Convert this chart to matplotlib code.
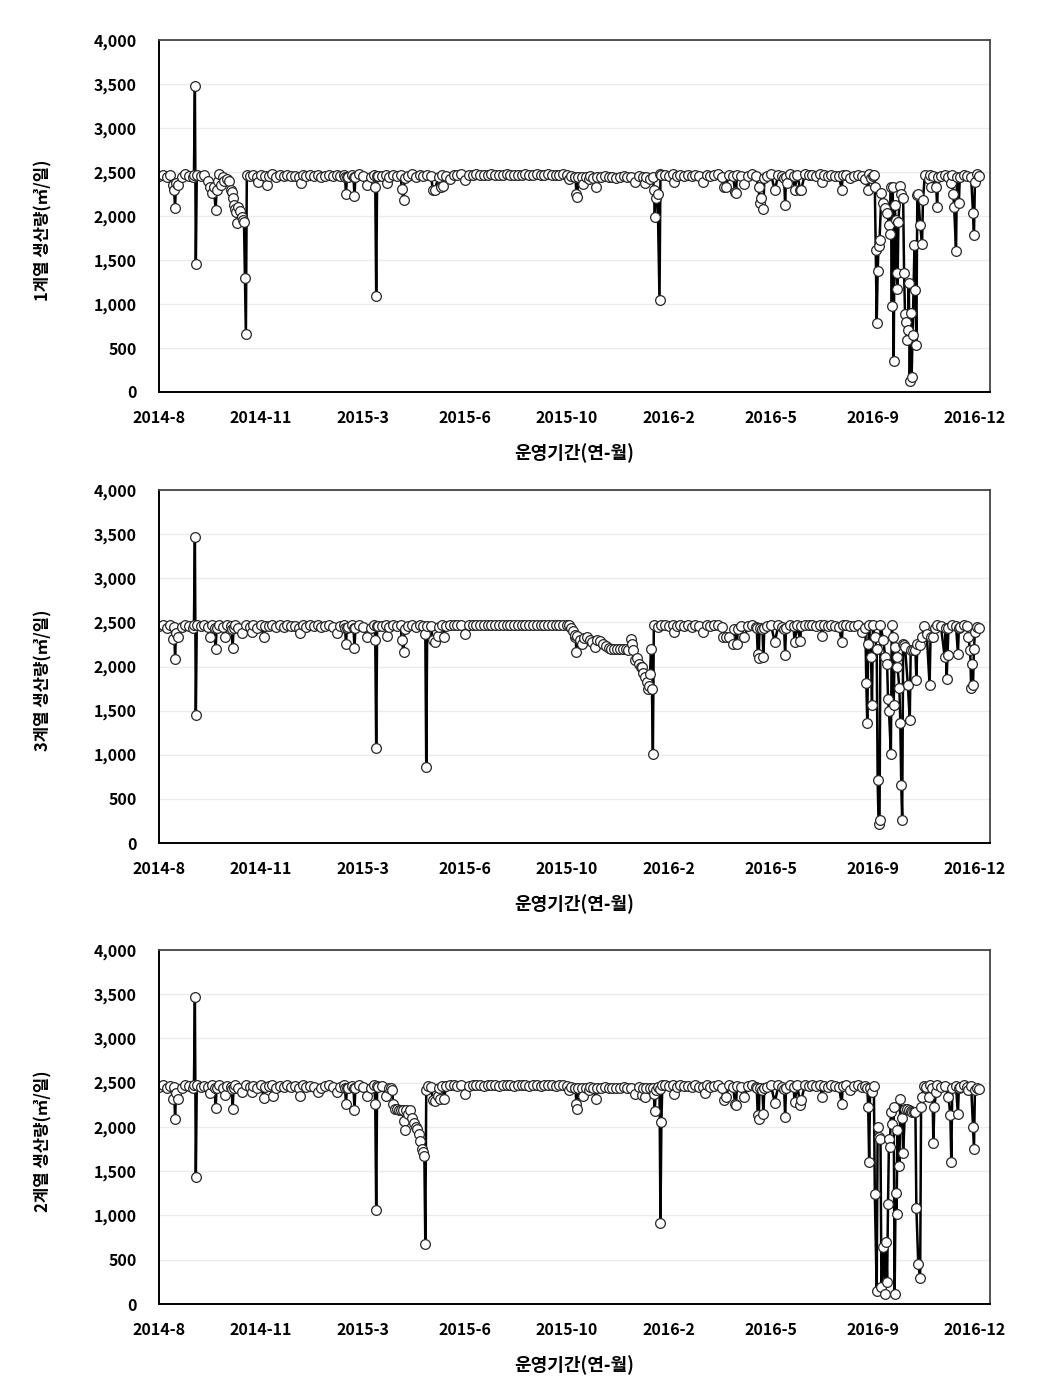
import matplotlib
matplotlib.use("Agg")
import matplotlib.pyplot as plt
from matplotlib.ticker import FuncFormatter

plt.rcParams['font.family'] = ['Noto Sans CJK KR', 'DejaVu Sans']
plt.rcParams['font.weight'] = 'bold'

# x axis: day index from 2014-8-10, a label every 108 days
tick_labels = ["2014-8", "2014-11", "2015-3", "2015-6", "2015-10",
               "2016-2", "2016-5", "2016-9", "2016-12"]
tick_step = 108

# normal operating level (sampled every 4 days), shared look of all trains
base_x = list(range(0, 872, 4))
base_y = [2455, 2470, 2440, 2465, 2450, 2470, 2445, 2475, 2460, 2440, 2470, 2455,
          2465, 2450, 2470, 2460, 2475, 2445, 2465, 2455, 2470, 2440, 2460, 2470,
          2450, 2465, 2440, 2470, 2455, 2460, 2475, 2445, 2465, 2450, 2470, 2455,
          2460, 2440, 2470, 2450, 2465, 2455, 2470, 2445, 2460, 2470, 2450, 2465,
          2455, 2470, 2445, 2465, 2460, 2475, 2450, 2465, 2440, 2470, 2455, 2460,
          2470, 2445, 2465, 2455, 2470, 2450, 2460, 2475, 2445, 2465, 2455, 2470,
          2455, 2470, 2445, 2465, 2460, 2475, 2470, 2465, 2475, 2470, 2465, 2470,
          2475, 2470, 2465, 2470, 2475, 2470, 2465, 2470, 2475, 2470, 2465, 2470,
          2470, 2475, 2465, 2470, 2475, 2465, 2470, 2475, 2470, 2465, 2470, 2475,
          2465, 2450, 2440, 2455, 2445, 2440, 2450, 2435, 2445, 2440, 2450, 2440,
          2445, 2435, 2440, 2450, 2440, 2445, 2435, 2450, 2440, 2445, 2435, 2440,
          2450, 2465, 2470, 2460, 2475, 2455, 2470, 2460, 2465, 2450, 2470, 2455,
          2450, 2470, 2455, 2465, 2475, 2445, 2460, 2470, 2450, 2465, 2455, 2470,
          2460, 2475, 2450, 2465, 2470, 2455, 2475, 2460, 2470, 2450, 2465, 2475,
          2455, 2470, 2460, 2475, 2465, 2470, 2460, 2475, 2465, 2455, 2470, 2460,
          2450, 2465, 2470, 2455, 2460, 2470, 2450, 2465, 2475, 2455, 2470, 2460,
          2465, 2455, 2470, 2450, 2465, 2475, 2460, 2445, 2470, 2455, 2465, 2450,
          2470, 2460, 2475, 2455, 2465, 2445, 2470, 2460, 2450, 2470, 2455, 2465,
          2460, 2455]

# 1계열: days that differ from the normal level
p1_x = [15, 16, 17, 18, 20, 37, 38, 39, 40,
        52, 54, 56, 58, 60, 61, 63, 66, 69,
        72, 74, 76, 77, 78, 79, 80, 82, 83, 84, 86, 88, 89, 90, 91, 92, 93,
        105, 114, 150, 197, 198, 199, 206, 207, 208, 220, 229, 230, 231, 241,
        257, 259, 260, 290, 292, 299, 301, 308, 324,
        434, 441, 442, 443, 444, 449, 455, 463, 504, 515, 520,
        523, 524, 525, 526, 528, 530, 531, 545, 576, 598, 600,
        610, 611, 620, 635, 636, 638, 640, 641, 652, 662, 663, 664, 665,
        673, 679, 680, 702, 723, 732, 748, 751, 754, 757,
        758, 759, 760, 761, 762, 763, 765, 767, 769, 771, 773, 774, 775, 776,
        777, 778, 779, 780, 781, 782, 783, 785, 786, 788, 789, 790, 791, 792,
        793, 794, 795, 796, 797, 798, 800, 801, 802, 803, 804, 806, 808, 809, 811,
        815, 817, 823, 824, 825, 839, 841, 842, 844, 845, 847, 848,
        860, 862, 863, 864, 866, 868]
p1_y = [2350, 2300, 2090, 2380, 2350, 2470, 3480, 1450, 2470,
        2400, 2330, 2260, 2330, 2070, 2300, 2400, 2350, 2400,
        2420, 2400, 2300, 2275, 2200, 2125, 2080, 2050, 1925, 2100, 2060, 1990, 1960, 1935, 1290, 655, 2470,
        2390, 2350, 2380, 2440, 2250, 2440, 2440, 2225, 2440, 2350, 2330, 1090, 2460, 2370,
        2310, 2180, 2430, 2300, 2295, 2330, 2340, 2420, 2410,
        2420, 2440, 2255, 2220, 2440, 2365, 2420, 2325, 2390, 2380, 2420,
        2445, 2300, 1990, 2200, 2250, 1045, 2480, 2390, 2390, 2330, 2330,
        2275, 2265, 2365, 2330, 2150, 2200, 2075, 2430, 2295, 2430, 2125, 2440, 2380,
        2300, 2295, 2300, 2390, 2300, 2430, 2420, 2295, 2430, 2466,
        2330, 1610, 780, 1370, 1660, 1730, 2260, 2145, 2090, 2030, 1900, 1800, 2330, 980,
        2330, 350, 2125, 1950, 1350, 1170, 1935, 2345, 2250, 2210, 1350, 890, 800, 590,
        705, 1240, 120, 895, 175, 650, 1670, 1160, 535, 2240, 2250, 1900, 1680, 2180, 2470,
        2420, 2330, 2330, 2105, 2440, 2370, 2250, 2105, 1605, 2440, 2145, 2440,
        2440, 2030, 1785, 2390, 2477, 2460]
p1_gaps = [(72, 93), (757, 812)]

# 3계열
p2_x = [15, 17, 18, 20, 37, 38, 39, 40,
        54, 59, 60, 61, 70, 77, 78, 79, 88, 98, 111, 149, 188,
        197, 198, 199, 206, 207, 208, 220, 229, 230, 231, 241,
        257, 259, 260, 282, 283, 284, 290, 292, 295, 302, 324,
        434, 436, 438, 440, 441, 442, 443, 446, 448, 450, 453, 456, 459, 462,
        464, 467, 470, 473, 476, 479, 482, 485, 488, 491, 494, 497, 500, 501,
        502, 504, 506, 508, 510, 511, 513, 515, 517, 518, 519, 520, 521, 522,
        523, 524, 545, 576, 597, 600, 604, 608, 609, 612, 613, 620,
        633, 634, 635, 636, 639, 640, 641, 652, 662, 663, 664, 673, 679, 702,
        723, 744, 748, 749, 750, 751, 752, 754, 755, 756, 758, 760, 761, 762,
        763, 764, 767, 769, 771, 772, 773, 775, 776, 777, 778, 779, 781, 782,
        784, 785, 786, 787, 788, 789, 790, 793, 795, 796, 798, 801, 802, 803,
        806, 808, 810, 813, 816, 817, 820, 822,
        832, 833, 834, 835, 836, 846, 847, 857, 859, 860, 861, 862, 863, 864, 866, 868]
p2_y = [2315, 2090, 2380, 2340, 2470, 3465, 1455, 2470,
        2335, 2440, 2200, 2440, 2340, 2430, 2213, 2440, 2380, 2390, 2335, 2380, 2380,
        2440, 2250, 2440, 2440, 2210, 2440, 2340, 2305, 1080, 2460, 2350,
        2296, 2165, 2430, 2370, 860, 2460, 2296, 2278, 2350, 2334, 2372,
        2466, 2440, 2400, 2330, 2360, 2165, 2350, 2300, 2260, 2320, 2330, 2300, 2280, 2220,
        2300, 2290, 2260, 2230, 2210, 2200, 2200, 2200, 2200, 2195, 2200, 2190, 2310, 2250,
        2190, 2070, 2100, 2030, 1995, 2000, 1925, 1880, 1825, 1750, 1780, 1920, 2195, 1740,
        1012, 2470, 2390, 2390, 2340, 2334, 2330, 2260, 2430, 2260, 2430, 2340,
        2440, 2145, 2100, 2440, 2430, 2108, 2440, 2278, 2430, 2126, 2440, 2280, 2290, 2350,
        2278, 2390, 2440, 1813, 1364, 2251, 2466, 2108, 1567, 2466, 2334, 2202, 710, 219,
        257, 2466, 2300, 2108, 2032, 1635, 1496, 1012, 2466, 2334, 1560, 2221, 2108, 1994,
        1760, 1364, 653, 257, 2259, 2240, 2221, 1787, 1390, 2183, 2183, 2183, 1851, 2259,
        2240, 2334, 2460, 2372, 1787, 2334, 2334, 2440,
        2108, 2440, 1862, 2126, 2440, 2145, 2440, 2330, 2183, 1760, 2032, 1787, 2200, 2390, 2450, 2440]
p2_gaps = [(434, 524), (748, 822)]

# 2계열
p3_x = [15, 17, 18, 20, 37, 38, 39, 40,
        54, 59, 60, 61, 70, 77, 78, 79, 88, 98, 111, 121, 149, 168, 188,
        197, 198, 199, 206, 207, 208, 220, 229, 230, 231, 240,
        246, 247, 248, 250, 252, 254, 256, 258, 259, 260, 262, 264, 266, 268,
        270, 272, 273, 275, 276, 278, 280, 281, 282, 283, 285,
        290, 292, 295, 298, 302, 324,
        434, 441, 442, 443, 444, 449, 455, 463, 504, 511, 515,
        523, 524, 525, 526, 530, 531, 532, 533, 545, 578, 598, 600, 610, 611, 620,
        633, 634, 635, 636, 639, 640, 641, 652, 662, 663, 664, 673, 679, 680,
        702, 723, 732, 750, 751, 752, 753, 755, 757, 758, 760, 761, 762, 764,
        765, 767, 769, 770, 771, 772, 773, 774, 775, 776, 778, 779, 780, 781,
        782, 784, 785, 787, 788, 790, 792, 794, 796, 797, 799, 801, 802, 804,
        806, 807, 808, 810, 815, 819, 820, 821, 823, 836, 838, 839, 840,
        846, 847, 857, 862, 863, 864, 866, 868]
p3_y = [2313, 2087, 2380, 2320, 2470, 3464, 1434, 2470,
        2380, 2440, 2219, 2440, 2360, 2430, 2204, 2440, 2390, 2390, 2329, 2350, 2350, 2390, 2390,
        2440, 2257, 2440, 2440, 2196, 2440, 2350, 2264, 1057, 2460, 2350,
        2440, 2415, 2257, 2208, 2200, 2196, 2196, 2196, 2068, 1962, 2196, 2151, 2196, 2106,
        2045, 2000, 1981, 1917, 1842, 1755, 1717, 1672, 679, 2415, 2466,
        2302, 2290, 2350, 2321, 2320, 2370,
        2420, 2440, 2264, 2208, 2440, 2351, 2420, 2313, 2370, 2360, 2340,
        2440, 2370, 2181, 2420, 2430, 913, 2057, 2470, 2370, 2380, 2302, 2340, 2264, 2250, 2340,
        2440, 2132, 2095, 2440, 2420, 2144, 2440, 2276, 2430, 2113, 2440, 2280, 2245, 2300,
        2340, 2257, 2420, 2440, 2227, 1604, 2440, 2400, 2466, 1238, 151, 2000, 1887, 1868,
        189, 642, 113, 698, 245, 1132, 1868, 1774, 2170, 2038, 2227, 113, 1257, 1019,
        1962, 1555, 2321, 2100, 1706, 2208, 2200, 2189, 2180, 2170, 2175, 2170, 1087, 453,
        291, 2227, 2340, 2466, 2340, 2440, 1819, 2227, 2400, 2340, 2132, 1604, 2440,
        2144, 2440, 2420, 2000, 1755, 2415, 2440, 2430]
p3_gaps = [(246, 285), (750, 810)]

ylabels = ["1계열 생산량(㎥/일)", "3계열 생산량(㎥/일)", "2계열 생산량(㎥/일)"]
panels = [(p1_x, p1_y, p1_gaps), (p2_x, p2_y, p2_gaps), (p3_x, p3_y, p3_gaps)]


def build_series(ex, ey, gaps):
    pts = {x: y for x, y in zip(base_x, base_y)
           if not any(a <= x <= b for a, b in gaps)}
    pts.update(zip(ex, ey))
    xs = sorted(pts)
    return xs, [pts[x] for x in xs]


fig = plt.figure(figsize=(10.44, 13.96), dpi=100)
bottoms = [0.7192, 0.3961, 0.0659]
heights = [0.2521, 0.2529, 0.2536]

for k, (ex, ey, gaps) in enumerate(panels):
    ax = fig.add_axes([0.1523, bottoms[k], 0.796, heights[k]])
    xs, ys = build_series(ex, ey, gaps)
    ax.plot(xs, ys, color='black', linewidth=1.8, marker='o', markersize=7,
            markerfacecolor='white', markeredgecolor='#262626', markeredgewidth=0.9)
    ax.set_xlim(0, 880)
    ax.set_ylim(0, 4000)
    ax.set_yticks(range(0, 4001, 500))
    ax.yaxis.set_major_formatter(FuncFormatter(lambda v, p: f"{int(v):,}"))
    ax.set_xticks([tick_step * n for n in range(len(tick_labels))])
    ax.set_xticklabels(tick_labels)
    ax.tick_params(length=0, labelsize=11.5)
    ax.tick_params(axis='x', pad=13)
    ax.tick_params(axis='y', pad=16)
    ax.grid(axis='y', color='#ebebeb', linewidth=1)
    ax.set_axisbelow(True)
    for side in ['top', 'right']:
        ax.spines[side].set_color('#444444')
        ax.spines[side].set_linewidth(1.3)
    for side in ['left', 'bottom']:
        ax.spines[side].set_color('black')
        ax.spines[side].set_linewidth(1.4)
    ax.set_xlabel("운영기간(연-월)", fontsize=13, fontweight='bold')
    ax.xaxis.set_label_coords(0.5, -0.145)
    ax.set_ylabel(ylabels[k], fontsize=12, fontweight='bold')
    ax.yaxis.set_label_coords(-0.128, 0.46)

fig.savefig("out.png", dpi=100)
